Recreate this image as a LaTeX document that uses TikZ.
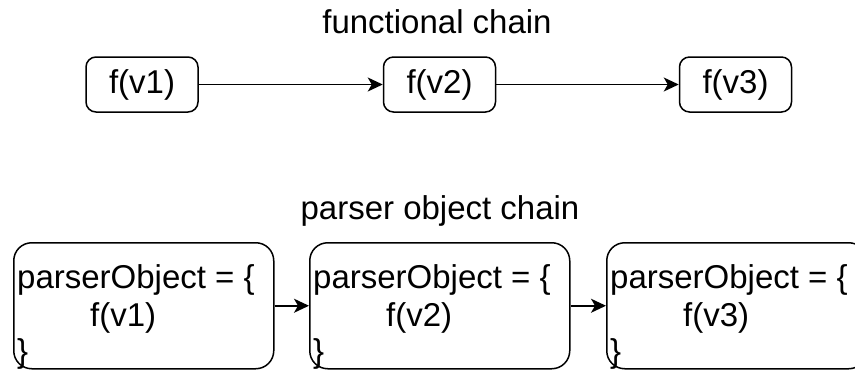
\documentclass[tikz,border=0pt]{standalone}
\usepackage{fontspec}
\setmainfont{Liberation Sans}
\usetikzlibrary{arrows.meta,calc}

\tikzset{
  txt/.style={font=\fontsize{33}{37}\selectfont, inner sep=0pt, text=black},
  fbox/.style={draw=black, line width=1.5pt, rounded corners=10pt,
               minimum width=112pt, minimum height=55pt, inner sep=0pt,
               font=\fontsize{33}{37}\selectfont},
  pbox/.style={draw=black, line width=1.5pt, rounded corners=18pt,
               minimum width=260pt, minimum height=126pt, inner sep=0pt},
  arr/.style={draw=black, line width=1.5pt,
              -{Stealth[length=15pt,width=14pt,inset=4pt]}},
}

\begin{document}
\begin{tikzpicture}[x=1pt,y=-1pt]
  \clip (0,0) rectangle (855,372);

  % functional chain
  \node[txt, anchor=base] (t1) at (437,34) {functional chain};
  \node[fbox] (f1) at (142,84.5) {f(v1)};
  \node[fbox] (f2) at (439.5,84.5) {f(v2)};
  \node[fbox] (f3) at (735.5,84.5) {f(v3)};
  \draw[arr] (f1.east) -- (f2.west);
  \draw[arr] (f2.east) -- (f3.west);

  % parser object chain
  \node[txt, anchor=base] (t2) at (440,219) {parser object chain};
  \node[pbox, anchor=north west] (p1) at (13,242) {};
  \node[pbox, anchor=north west] (p2) at (309,242) {};
  \node[pbox, anchor=north west] (p3) at (606,242) {};
  \draw[arr] (p1.east) -- (p2.west);
  \draw[arr] (p2.east) -- (p3.west);

  \foreach \b/\v in {p1/1, p2/2, p3/3} {
    \node[txt, anchor=base west] (\b a) at ($(\b.north west)+(4,46)$) {parserObject = \{};
    \node[txt, anchor=base west] (\b b) at ($(\b.north west)+(77,84)$) {f(v\v)};
    \node[txt, anchor=base west] (\b c) at ($(\b.north west)+(4,120)$) {\}};
  }
\end{tikzpicture}
\end{document}
